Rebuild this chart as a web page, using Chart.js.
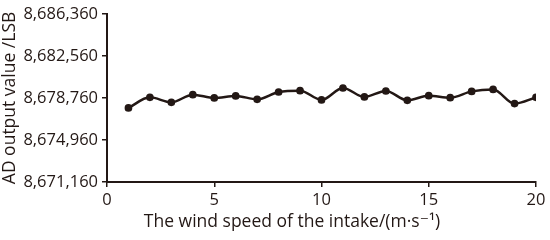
<!DOCTYPE html>
<html><head><meta charset="utf-8">
<script src="https://cdn.jsdelivr.net/npm/chart.js@4/dist/chart.umd.min.js"></script>
<style>html,body{margin:0;padding:0;background:#fff}#wrap{width:550px;height:240px}</style>
</head><body><div id="wrap"><canvas id="c" width="550" height="240"></canvas></div>
<script>
const windSpeed = [1,2,3,4,5,6,7,8,9,10,11,12,13,14,15,16,17,18,19,20];
const adValues = [8677861,8678814,8678364,8679057,8678760,8678940,8678634,8679300,8679417,8678580,
                  8679660,8678850,8679390,8678544,8678967,8678787,8679354,8679533,8678247,8678814];
const yTicks = [8671160,8674960,8678760,8682560,8686360];
const xTicks = [0,5,10,15,20];
const xTitle = 'The wind speed of the intake/(m\u00b7s\u207b\u00b9)';
const yTitle = 'AD output value /LSB';
const ink = '#231815';
const fontFam = '"Open Sans", "DejaVu Sans", sans-serif';

const xTitlePlugin = {
  id: 'xTitle',
  afterDraw(chart) {
    const ctx = chart.ctx;
    ctx.save();
    ctx.fillStyle = ink;
    ctx.font = '17.5px ' + fontFam;
    ctx.textAlign = 'center';
    ctx.textBaseline = 'middle';
    ctx.fillText(xTitle, 292, 222);
    ctx.restore();
  }
};

new Chart(document.getElementById('c'), {
  type: 'line',
  data: {
    datasets: [{
      data: windSpeed.map((x, i) => ({x: x, y: adValues[i]})),
      borderColor: ink, backgroundColor: ink,
      borderWidth: 2.5, pointRadius: 2.6, pointHoverRadius: 2.6,
      tension: 0.4, cubicInterpolationMode: 'monotone', fill: false
    }]
  },
  options: {
    responsive: false, animation: false, devicePixelRatio: 1,
    layout: {padding: {top: 13, right: 14, left: 0, bottom: 0}},
    plugins: {legend: {display: false}, tooltip: {enabled: false}},
    scales: {
      x: {
        type: 'linear', min: 0, max: 20,
        afterBuildTicks: s => { s.ticks = xTicks.map(v => ({value: v})); },
        afterFit: s => { s.height = 58; },
        grid: {drawOnChartArea: false, drawTicks: true, tickLength: 5, color: ink, lineWidth: 1.5},
        border: {display: true, color: ink, width: 2},
        ticks: {color: ink, font: {size: 16.5, family: fontFam}, padding: 3, maxRotation: 0}
      },
      y: {
        min: yTicks[0], max: yTicks[yTicks.length - 1],
        afterBuildTicks: s => { s.ticks = yTicks.map(v => ({value: v})); },
        afterFit: s => { s.width = 107; },
        grid: {drawOnChartArea: false, drawTicks: true, tickLength: 5, color: ink, lineWidth: 1.5},
        border: {display: true, color: ink, width: 2},
        ticks: {color: ink, font: {size: 16.5, family: fontFam}, padding: 4,
                callback: v => Number(v).toLocaleString('en-US')},
        title: {display: true, text: yTitle, color: ink, font: {size: 17.5, family: fontFam}, padding: 0}
      }
    }
  },
  plugins: [xTitlePlugin]
});
</script></body></html>
